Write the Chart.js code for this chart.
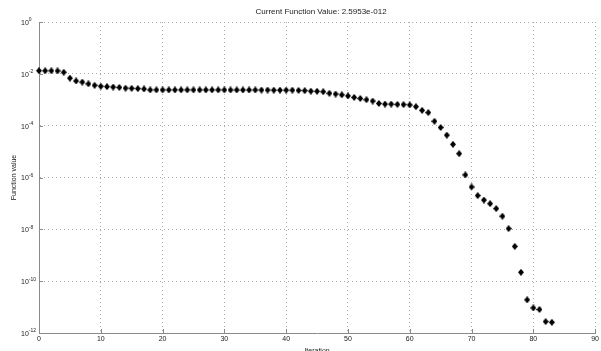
<!DOCTYPE html>
<html>
<head>
<meta charset="utf-8">
<script src="https://cdn.jsdelivr.net/npm/chart.js@4/dist/chart.umd.min.js"></script>
<style>
  html, body { margin: 0; padding: 0; background: #fff; }
  #wrap { width: 601px; height: 351px; }
</style>
</head>
<body>
<div id="wrap"><canvas id="chart" width="601" height="351"></canvas></div>
<script>
/* ---------- data ---------- */

const iterations = [
  0, 1, 2, 3, 4, 5, 6, 7, 8, 9,
  10, 11, 12, 13, 14, 15, 16, 17, 18, 19,
  20, 21, 22, 23, 24, 25, 26, 27, 28, 29,
  30, 31, 32, 33, 34, 35, 36, 37, 38, 39,
  40, 41, 42, 43, 44, 45, 46, 47, 48, 49,
  50, 51, 52, 53, 54, 55, 56, 57, 58, 59,
  60, 61, 62, 63, 64, 65, 66, 67, 68, 69,
  70, 71, 72, 73, 74, 75, 76, 77, 78, 79,
  80, 81, 82, 83
];

const fvals = [
  0.0132, 0.0131, 0.0131, 0.0130, 0.0115, 0.0068, 0.0053, 0.0048, 0.0041, 0.0036,
  0.0033, 0.0032, 0.0031, 0.0030, 0.0028, 0.00275, 0.0027, 0.0026, 0.0024, 0.0024,
  0.0024, 0.0024, 0.0024, 0.0024, 0.0024, 0.0024, 0.0024, 0.0024, 0.0024, 0.0024,
  0.0024, 0.00238, 0.00238, 0.00238, 0.00238, 0.00238, 0.00237, 0.00237, 0.00235, 0.00235,
  0.00235, 0.00234, 0.00229, 0.00224, 0.00214, 0.00212, 0.00204, 0.00178, 0.00166, 0.00155,
  0.00141, 0.00123, 0.00112, 0.00100, 0.00089, 0.00072, 0.00068, 0.00068, 0.00066, 0.00065,
  0.00063, 0.00054, 0.00039, 0.00032, 1.48e-4, 8.5e-5, 4.3e-5, 1.9e-5, 8.3e-6, 1.26e-6,
  4.3e-7, 2.0e-7, 1.35e-7, 9.8e-8, 6.3e-8, 3.2e-8, 1.07e-8, 2.2e-9, 2.2e-10, 1.9e-11,
  9.3e-12, 8.1e-12, 2.75e-12, 2.5953e-12
];

const xTicks = [0, 10, 20, 30, 40, 50, 60, 70, 80, 90];
const yExponents = [0, -2, -4, -6, -8, -10, -12];

const titleText = "Current Function Value: 2.5953e-012";
const xLabel = "Iteration";
const yLabel = "Function value";

/* ---------- look ---------- */

const FONT = "Liberation Sans, Arial, sans-serif";
const AXIS = "#8a8a8a";
const GRID = "#acacac";
const TEXT = "#1a1a1a";

// diamond marker, taller than wide like the matlab 'd'
function diamond(w, h) {
  const c = document.createElement("canvas");
  c.width = w; c.height = h;
  const g = c.getContext("2d");
  g.fillStyle = "#000";
  g.beginPath();
  g.moveTo(w / 2, 0);
  g.lineTo(w, h / 2);
  g.lineTo(w / 2, h);
  g.lineTo(0, h / 2);
  g.closePath();
  g.fill();
  return c;
}

// title over the axes, inward ticks, superscript y labels
const matlabAxes = {
  id: "matlabAxes",
  afterDraw(chart) {
    const { ctx, chartArea: a } = chart;
    const xs = chart.scales.x, ys = chart.scales.y;
    ctx.save();

    ctx.fillStyle = TEXT;
    ctx.font = "8px " + FONT;
    ctx.textAlign = "center";
    ctx.textBaseline = "middle";
    ctx.fillText(titleText, (a.left + a.right) / 2 + 4, 12);

    ctx.strokeStyle = AXIS;
    ctx.lineWidth = 1;
    ctx.beginPath();
    xTicks.forEach(v => {
      const px = Math.round(xs.getPixelForValue(v)) + 0.5;
      ctx.moveTo(px, a.bottom);
      ctx.lineTo(px, a.bottom - 4);
    });
    yExponents.forEach(e => {
      const py = Math.round(ys.getPixelForValue(Math.pow(10, e))) + 0.5;
      ctx.moveTo(a.left, py);
      ctx.lineTo(a.left + 4, py);
    });
    ctx.stroke();

    ctx.textAlign = "left";
    yExponents.forEach(e => {
      const py = ys.getPixelForValue(Math.pow(10, e));
      ctx.font = "7px " + FONT;
      ctx.fillText("10", 21, py + 1);
      const w = ctx.measureText("10").width;
      ctx.font = "5px " + FONT;
      ctx.fillText(String(e), 21 + w, py - 2);
    });
    ctx.restore();
  }
};

new Chart(document.getElementById("chart"), {
  type: "scatter",
  data: {
    datasets: [{
      data: iterations.map((it, i) => ({ x: it, y: fvals[i] })),
      pointStyle: diamond(6, 7),
      pointRadius: 4,
      clip: false
    }]
  },
  options: {
    responsive: false,
    animation: false,
    devicePixelRatio: 1,
    layout: { padding: { left: 0, right: 4, top: 22, bottom: 0 } },
    plugins: {
      legend: { display: false },
      tooltip: { enabled: false },
      title: { display: false }
    },
    scales: {
      x: {
        type: "linear",
        min: 0,
        max: 90,
        afterBuildTicks: s => { s.ticks = xTicks.map(v => ({ value: v })); },
        afterFit: s => { s.height = 18; },
        ticks: { color: TEXT, font: { family: FONT, size: 7 }, padding: 2, maxRotation: 0 },
        grid: { color: GRID, lineWidth: 1, drawTicks: false },
        border: { display: true, color: AXIS, width: 1, dash: [1, 3] },
        title: {
          display: true,
          text: xLabel,
          color: TEXT,
          font: { family: FONT, size: 7, lineHeight: 1.2 },
          padding: { top: 0, bottom: -4 }
        }
      },
      y: {
        type: "logarithmic",
        min: 1e-12,
        max: 1,
        afterBuildTicks: s => { s.ticks = yExponents.map(e => ({ value: Math.pow(10, e) })); },
        afterFit: s => { s.width = 39; },
        ticks: { display: false },
        grid: { color: GRID, lineWidth: 1, drawTicks: false },
        border: { display: true, color: AXIS, width: 1, dash: [1, 3] },
        title: {
          display: true,
          text: yLabel,
          color: TEXT,
          font: { family: FONT, size: 7, lineHeight: 1.2 },
          padding: { top: 10, bottom: 0 }
        }
      }
    }
  },
  plugins: [matlabAxes]
});
</script>
</body>
</html>
